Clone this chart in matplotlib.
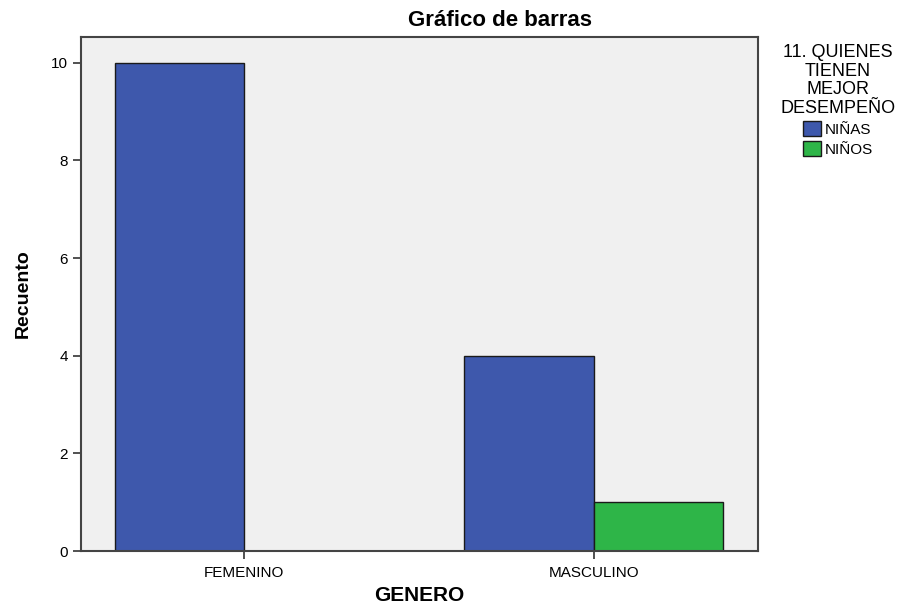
import matplotlib
matplotlib.use("Agg")
import matplotlib.pyplot as plt
import numpy as np

plt.rcParams["font.family"] = ["Liberation Sans", "DejaVu Sans"]

# counts per gender, split by who performs better
generos = ["FEMENINO", "MASCULINO"]
respuestas = ["NIÑAS", "NIÑOS"]
recuento_ninas = [10, 4]
recuento_ninos = [0, 1]

colores = ["#3E58AC", "#2EB548"]
ancho = 0.37

fig = plt.figure(figsize=(9.1, 6.05), dpi=100)
ax = fig.add_axes([0.089, 0.089, 0.744, 0.850])
ax.set_facecolor("#F0F0F0")

x = np.arange(len(generos))
barras = []
for k, (vals, col) in enumerate(zip([recuento_ninas, recuento_ninos], colores)):
    offs = (k - 0.5) * ancho
    b = ax.bar(x + offs, vals, width=ancho, color=col, edgecolor="#1a1a1a",
               linewidth=1.0, label=respuestas[k], zorder=2)
    barras.append(b)

ax.set_xlim(-0.466, 1.469)
ax.set_ylim(0, 10.53)
ax.set_yticks(range(0, 11, 2))
ax.set_xticks(x)
ax.set_xticklabels(generos)
ax.tick_params(axis="both", direction="out", length=6, width=1.2,
               color="#333333", labelsize=11)
ax.tick_params(axis="x", pad=5)
for s in ax.spines.values():
    s.set_color("#444444")
    s.set_linewidth(1.5)

ax.set_xlabel("GENERO", fontsize=15, fontweight="bold", labelpad=4)
ax.set_ylabel("Recuento", fontsize=14, fontweight="bold", labelpad=14)
fig.text(0.549, 0.966, "Gráfico de barras", fontsize=16, fontweight="bold",
         ha="center", va="center")

# legend title drawn on its own so the line spacing can be set freely
fig.text(0.921, 0.927, "11. QUIENES\nTIENEN\nMEJOR\nDESEMPEÑO",
         fontsize=13, ha="center", va="top", multialignment="center",
         linespacing=1.12)
leg = fig.legend(handles=[b[0] for b in barras], labels=respuestas,
                 loc="upper center", bbox_to_anchor=(0.921, 0.818),
                 frameon=False, fontsize=11,
                 handlelength=1.2, handleheight=1.2, handletextpad=0.25,
                 labelspacing=0.25, borderpad=0.2)
for h in leg.legend_handles:
    h.set_edgecolor("#1a1a1a")

fig.savefig("out.png", dpi=100)
